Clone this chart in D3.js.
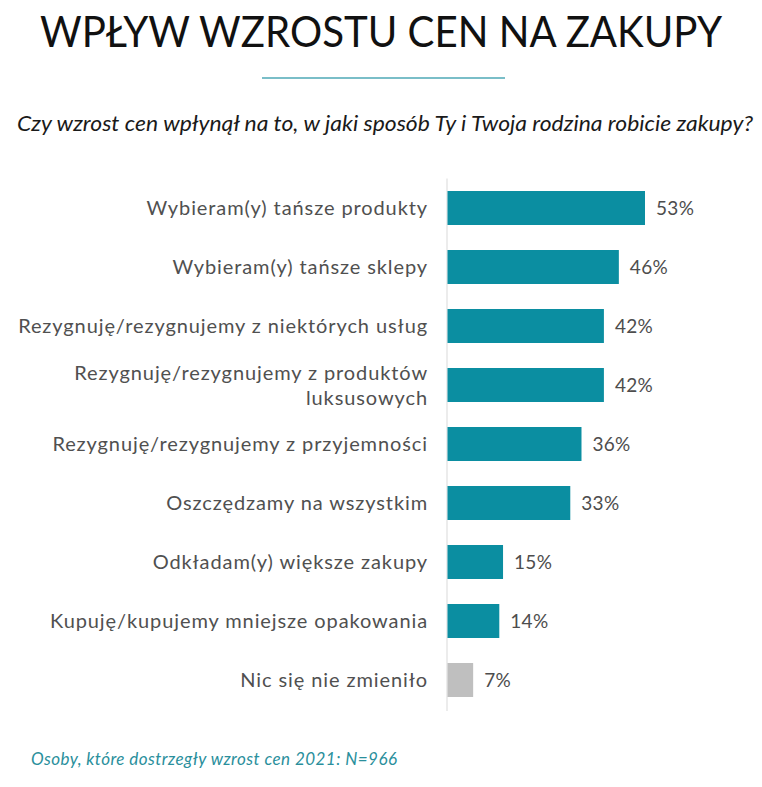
<!DOCTYPE html>
<html><head><meta charset="utf-8">
<script src="https://cdn.jsdelivr.net/npm/d3@7"></script>
<style>body{margin:0;background:#fff}</style>
</head><body>
<svg id="c" width="762" height="787"></svg>
<script>
const categories = [
  ["Wybieram(y) tańsze produkty"],
  ["Wybieram(y) tańsze sklepy"],
  ["Rezygnuję/rezygnujemy z niektórych usług"],
  ["Rezygnuję/rezygnujemy z produktów", "luksusowych"],
  ["Rezygnuję/rezygnujemy z przyjemności"],
  ["Oszczędzamy na wszystkim"],
  ["Odkładam(y) większe zakupy"],
  ["Kupuję/kupujemy mniejsze opakowania"],
  ["Nic się nie zmieniło"]
];
const values = [53, 46, 42, 42, 36, 33, 15, 14, 7];
const highlight = [1,1,1,1,1,1,1,1,0];
const title = "WPŁYW WZROSTU CEN NA ZAKUPY";
const subtitle = "Czy wzrost cen wpłynął na to, w jaki sposób Ty i Twoja rodzina robicie zakupy?";
const footnote = "Osoby, które dostrzegły wzrost cen 2021: N=966";

const svg = d3.select("#c");
const font = "Lato, 'Open Sans', sans-serif";
const teal = "#0b8ea1", grey = "#bfbfbf";

svg.append("text").attr("x",381).attr("y",47).attr("text-anchor","middle")
  .attr("font-family",font).attr("font-weight",400).attr("font-size",42).attr("fill","#111")
  .attr("textLength",682).attr("lengthAdjust","spacingAndGlyphs").text(title);
svg.append("line").attr("x1",262).attr("x2",505).attr("y1",78).attr("y2",78)
  .attr("stroke","#4ea9b6").attr("stroke-width",1.5);
svg.append("text").attr("x",385).attr("y",131).attr("text-anchor","middle")
  .attr("font-family",font).attr("font-style","italic").attr("font-weight",400).attr("font-size",22).attr("fill","#1a1a1a")
  .attr("textLength",736).attr("lengthAdjust","spacingAndGlyphs").text(subtitle);

const x = d3.scaleLinear().domain([0,53]).range([447,645]);
const y = d3.scaleBand().domain(d3.range(values.length)).range([178.5,709.5]).paddingInner(0.424).paddingOuter(0.212);

svg.append("line").attr("x1",x(0)).attr("x2",x(0)).attr("y1",178.5).attr("y2",711)
  .attr("stroke","#d9d9d9").attr("stroke-width",1);

svg.selectAll("rect.bar").data(values).join("rect").attr("class","bar")
  .attr("x",x(0)+0.5).attr("y",(d,i)=>y(i)).attr("height",y.bandwidth())
  .attr("width",d=>x(d)-x(0)-0.5).attr("fill",(d,i)=>highlight[i]?teal:grey);

svg.selectAll("text.val").data(values).join("text").attr("class","val")
  .attr("x",d=>x(d)+11).attr("y",(d,i)=>y(i)+y.bandwidth()/2+7)
  .attr("font-family",font).attr("font-size",19).attr("letter-spacing",0.3).attr("fill","#4d4d4d").text(d=>d+"%");

categories.forEach((lines,i)=>{
  const cy = y(i)+y.bandwidth()/2;
  const lh = 25;
  const t = svg.append("text").attr("text-anchor","end").attr("font-family",font)
    .attr("font-size",20).attr("letter-spacing",0.9).attr("fill","#505050");
  lines.forEach((ln,j)=>{
    t.append("tspan").attr("x",428).attr("y",cy+7+(j-(lines.length-1)/2)*lh).text(ln);
  });
});

svg.append("text").attr("x",31).attr("y",765)
  .attr("font-family",font).attr("font-style","italic").attr("font-size",17).attr("fill","#2a8f9c")
  .attr("textLength",366).attr("lengthAdjust","spacing")
  .text(footnote);
</script>
</body></html>
